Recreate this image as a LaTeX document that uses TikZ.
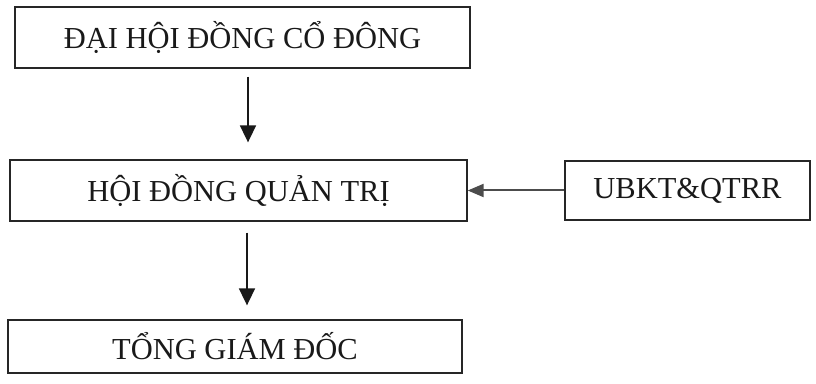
\documentclass[tikz,border=0pt]{standalone}
\usepackage{fontspec}
\setmainfont{Liberation Serif}
\usetikzlibrary{arrows.meta}
\begin{document}
\begin{tikzpicture}[x=1pt,y=1pt,
  box/.style={draw=black!85, line width=1.3pt, rectangle, inner sep=0pt, font=\fontsize{30.5}{34}\selectfont, text=black!90},
  arr/.style={draw=black!90, line width=1.7pt, -{Triangle[width=16pt,length=17pt]}}]
\useasboundingbox (0,0) rectangle (816,383);
\node[box, minimum width=455pt, minimum height=61pt] (dh) at (242.5,345.5) {ĐẠI HỘI ĐỒNG CỔ ĐÔNG};
\node[box, minimum width=457pt, minimum height=61pt] (hd) at (238.5,192.5) {HỘI ĐỒNG QUẢN TRỊ};
\node[box, minimum width=245pt, minimum height=59pt] (ub) at (687.5,192.5) {UBKT\&QTRR};
\node[box, minimum width=454pt, minimum height=53pt] (tg) at (235,36.5) {TỔNG GIÁM ĐỐC};
\draw[arr] ([shift={(5.5pt,-8pt)}]dh.south) -- ([shift={(9.5pt,17pt)}]hd.north);
\draw[arr] ([shift={(8.5pt,-11pt)}]hd.south) -- ([shift={(12pt,14pt)}]tg.north);
\draw[arr, draw=black!70, line width=2pt, -{Triangle[width=13pt,length=16pt]}] (ub.west) -- (hd.east);
\end{tikzpicture}
\end{document}
